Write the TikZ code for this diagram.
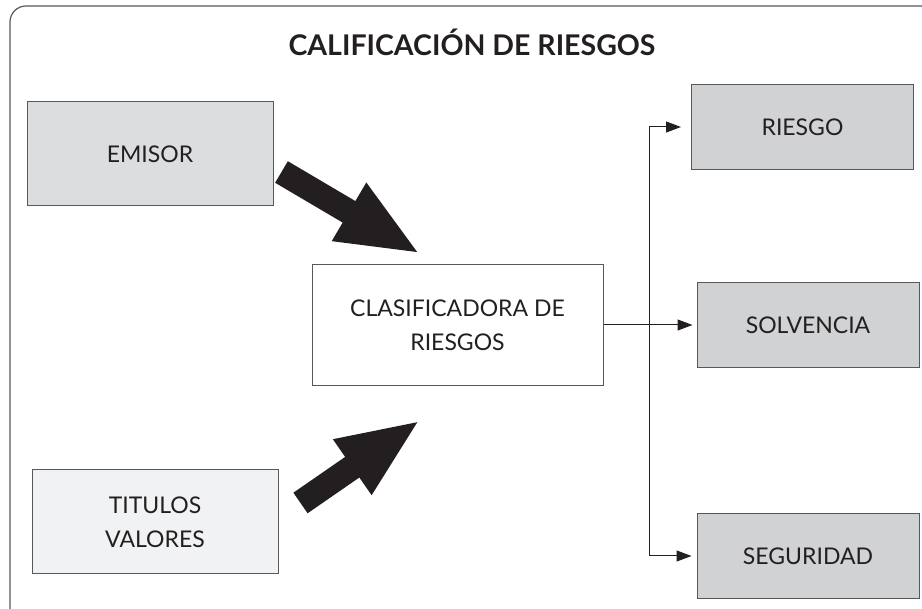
\documentclass[tikz,border=0pt]{standalone}
\usepackage{fontspec}
\setmainfont{Lato}
\usetikzlibrary{arrows.meta,calc}
\definecolor{boxgray}{HTML}{D1D2D4}
\definecolor{emigray}{HTML}{DCDDDF}
\definecolor{titgray}{HTML}{F1F2F3}
\definecolor{ink}{HTML}{231F20}
\definecolor{rule}{HTML}{58585A}
\tikzset{
    %Define standard arrow tip
    >={Triangle[length=15pt,width=11pt]},
    %Define style for boxes
    entity/.style={
           rectangle,
           draw=rule, line width=1pt,
           minimum width=246pt,
           minimum height=104pt,
           font=\fontsize{23}{34}\selectfont,
           text=ink,
           align=center},
    result/.style={
           entity,
           fill=boxgray,
           minimum width=222pt,
           minimum height=85pt},
    % Define arrow styles
    pil/.style={
           ->,
           draw=ink, line width=1pt},
    fat/.style={
           draw=ink, line width=25pt,
           -{Triangle[length=83pt,width=61pt]}}
}
\begin{document}
\begin{tikzpicture}[x=1pt,y=-1pt]
\useasboundingbox (0,0) rectangle (922,609);
% frame
\draw[rule, line width=1.2pt, rounded corners=16pt] (922,6) -- (10,6) -- (10,609);
\node[text=ink, font=\fontsize{28.5}{32}\selectfont\bfseries] (title) at (472,42) {CALIFICACIÓN DE RIESGOS};
\node[entity, fill=emigray] (emisor) at (150,154) {EMISOR};
\node[entity, fill=titgray] (titulos) at (155,522) {TITULOS\\VALORES};
\node[entity, fill=white, minimum width=291pt, minimum height=121pt] (clas) at (457.5,325) {CLASIFICADORA DE\\RIESGOS};
\node[result] (riesgo) at (802.5,127) {RIESGO};
\node[result] (solv) at (808,325) {SOLVENCIA};
\node[result] (seg) at (808,556) {SEGURIDAD};
% big arrows into the center box
\coordinate (e1) at ($(emisor.east)+(8,18)$);
\coordinate (e2) at ($(clas.north west)+(109,-10)$);
\coordinate (t1) at ($(titulos.east)+(22,-19)$);
\coordinate (t2) at ($(clas.south west)+(109,34)$);
\draw[fat] (e1) -- (e2);
\draw[fat] (t1) -- (t2);
% fork to the results
\coordinate (fork) at ($(clas.east)+(46,0)$);
\draw[pil, shorten >=4pt] (clas) -- (solv);
\draw[pil, shorten >=10pt] (fork) |- (riesgo);
\draw[pil, shorten >=5pt] (fork) |- (seg);
\end{tikzpicture}
\end{document}
